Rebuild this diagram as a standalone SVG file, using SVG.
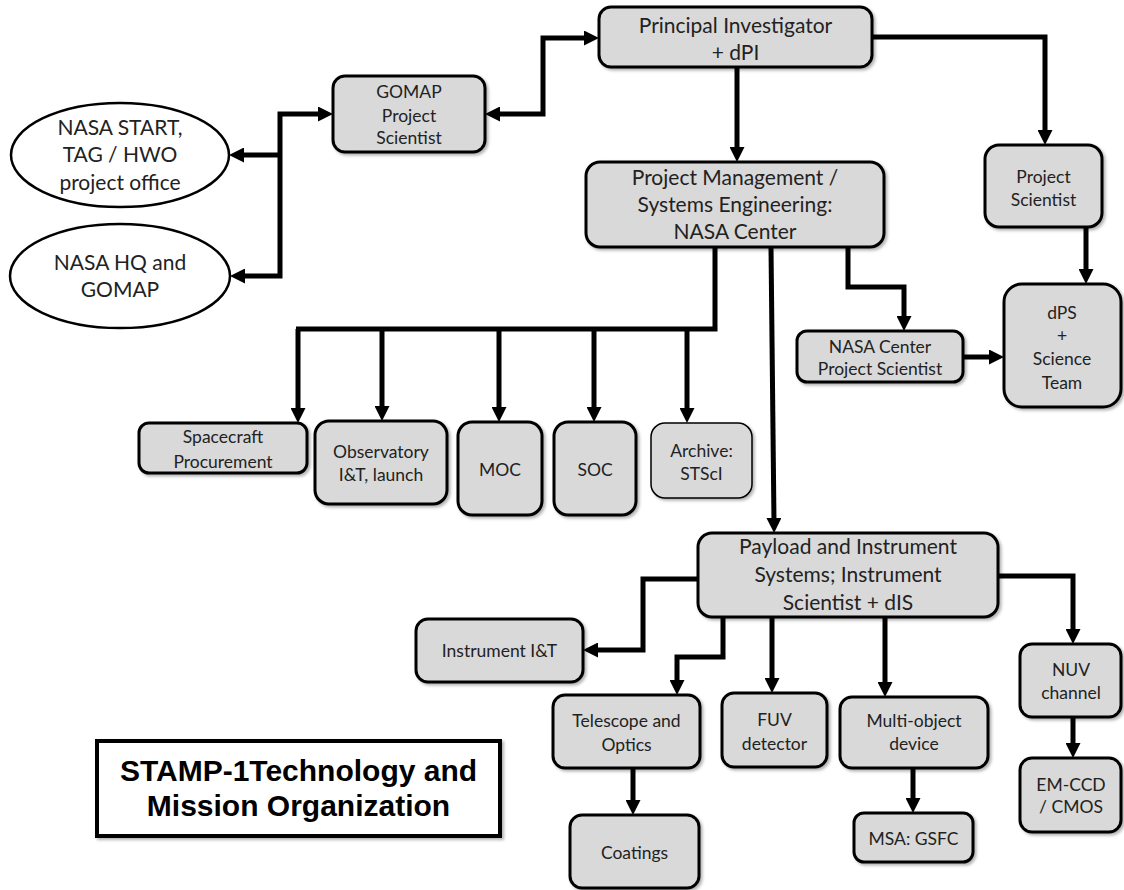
<svg xmlns="http://www.w3.org/2000/svg" width="1124" height="890" viewBox="0 0 1124 890">
<defs>
<marker id="ah" markerUnits="userSpaceOnUse" markerWidth="15" markerHeight="15" refX="5" refY="7.5" orient="auto-start-reverse">
<path d="M0,0 L15,7.5 L0,15 z" fill="#000"/>
</marker>
<filter id="sh" x="-10%" y="-10%" width="130%" height="130%">
<feDropShadow dx="2" dy="2" stdDeviation="1.5" flood-color="#000" flood-opacity="0.3"/>
</filter>
<style>
.box{fill:#d9d9d9;stroke:#000;stroke-width:3;filter:url(#sh)}
.thin{stroke-width:1.5}
.ell{fill:#fff;stroke:#000;stroke-width:2.5}
.t{font-family:Lato,"Open Sans",sans-serif;font-size:17.5px;fill:#222;text-anchor:middle}
.big{font-size:21px}
.title{font-family:"Liberation Sans",Arial,sans-serif;font-weight:bold;font-size:30px;fill:#000;text-anchor:middle}
.c{fill:none;stroke:#000;stroke-width:5;stroke-linejoin:miter}
.a{marker-end:url(#ah)}
.b{marker-start:url(#ah);marker-end:url(#ah)}
.s{marker-start:url(#ah)}
</style>
</defs>
<rect width="1124" height="890" fill="#fff"/>

<g id="connectors">
<path class="c b" d="M495,114 L543,114 L543,38 L589,38"/>
<path class="c s a" d="M323,114 L280,114 L280,276 L240,276"/>
<path class="c a" d="M280,155 L239,155"/>
<path class="c a" d="M737,67 L737,152"/>
<path class="c a" d="M872,37 L1045,37 L1045,135"/>
<path class="c a" d="M1086,227 L1086,274"/>
<path class="c a" d="M848,247 L848,287 L904,287 L904,321"/>
<path class="c a" d="M963,357 L994,357"/>
<path class="c" d="M715,247 L715,329 L296,329"/>
<path class="c a" d="M298,329 L298,413"/>
<path class="c a" d="M382,329 L382,411"/>
<path class="c a" d="M499,329 L499,412"/>
<path class="c a" d="M594,329 L594,412"/>
<path class="c a" d="M687,329 L687,413"/>
<path class="c a" d="M771,247 L774,523"/>
<path class="c a" d="M698,579 L643,579 L643,650 L593,650"/>
<path class="c a" d="M723,617 L723,657 L677,657 L677,685"/>
<path class="c a" d="M772,617 L772,683"/>
<path class="c a" d="M885,617 L885,687"/>
<path class="c a" d="M998,576 L1073,576 L1073,634"/>
<path class="c a" d="M633,768 L633,805"/>
<path class="c a" d="M913,768 L913,803"/>
<path class="c a" d="M1073,717 L1073,748"/>
</g>

<g id="pi">
<rect class="box" x="599" y="7" width="273" height="60" rx="12"/>
<text class="t big" x="735.5" y="33">Principal Investigator</text>
<text class="t big" x="735.5" y="60">+ dPI</text>
</g>

<g id="gomap">
<rect class="box" x="333" y="76" width="152" height="76" rx="12"/>
<text class="t" x="409" y="98">GOMAP</text>
<text class="t" x="409" y="122">Project</text>
<text class="t" x="409" y="144">Scientist</text>
</g>

<g id="nasa-start">
<ellipse class="ell" cx="120" cy="155" rx="109" ry="52"/>
<text class="t big" x="120" y="135">NASA START,</text>
<text class="t big" x="120" y="162">TAG / HWO</text>
<text class="t big" x="120" y="190">project office</text>
</g>

<g id="nasa-hq">
<ellipse class="ell" cx="120" cy="276" rx="110" ry="52"/>
<text class="t big" x="120" y="270">NASA HQ and</text>
<text class="t big" x="120" y="297">GOMAP</text>
</g>

<g id="pm">
<rect class="box" x="586" y="162" width="298" height="85" rx="14"/>
<text class="t big" x="735" y="185">Project Management /</text>
<text class="t big" x="735" y="212">Systems Engineering:</text>
<text class="t big" x="735" y="239">NASA Center</text>
</g>

<g id="ps">
<rect class="box" x="985" y="145" width="117" height="82" rx="14"/>
<text class="t" x="1043.5" y="183">Project</text>
<text class="t" x="1043.5" y="206">Scientist</text>
</g>

<g id="dps">
<rect class="box" x="1004" y="284" width="117" height="123" rx="18"/>
<text class="t" x="1062" y="319">dPS</text>
<text class="t" x="1062" y="342">+</text>
<text class="t" x="1062" y="365">Science</text>
<text class="t" x="1062" y="389">Team</text>
</g>

<g id="nasa-center-ps">
<rect class="box" x="797" y="331" width="166" height="51" rx="10"/>
<text class="t" x="880" y="353">NASA Center</text>
<text class="t" x="880" y="375">Project Scientist</text>
</g>

<g id="spacecraft">
<rect class="box" x="139" y="423" width="168" height="50" rx="10"/>
<text class="t" x="223" y="443">Spacecraft</text>
<text class="t" x="223" y="468">Procurement</text>
</g>

<g id="observatory">
<rect class="box" x="315" y="421" width="132" height="83" rx="14"/>
<text class="t" x="381" y="458">Observatory</text>
<text class="t" x="381" y="481">I&amp;T, launch</text>
</g>

<g id="moc">
<rect class="box" x="458" y="422" width="84" height="93" rx="14"/>
<text class="t" x="500" y="476">MOC</text>
</g>

<g id="soc">
<rect class="box" x="554" y="422" width="82" height="93" rx="14"/>
<text class="t" x="595" y="476">SOC</text>
</g>

<g id="archive">
<rect class="box thin" x="651" y="423" width="101" height="75" rx="14"/>
<text class="t" x="701.5" y="457">Archive:</text>
<text class="t" x="701.5" y="480">STScI</text>
</g>

<g id="payload">
<rect class="box" x="698" y="533" width="300" height="84" rx="14"/>
<text class="t big" x="848" y="554">Payload and Instrument</text>
<text class="t big" x="848" y="582">Systems; Instrument</text>
<text class="t big" x="848" y="610">Scientist + dIS</text>
</g>

<g id="instrument-it">
<rect class="box" x="416" y="619" width="167" height="63" rx="12"/>
<text class="t" x="499.5" y="657">Instrument I&amp;T</text>
</g>

<g id="telescope">
<rect class="box" x="553" y="695" width="147" height="73" rx="12"/>
<text class="t" x="626.5" y="727">Telescope and</text>
<text class="t" x="626.5" y="751">Optics</text>
</g>

<g id="fuv">
<rect class="box" x="722" y="693" width="105" height="74" rx="12"/>
<text class="t" x="774.5" y="726">FUV</text>
<text class="t" x="774.5" y="750">detector</text>
</g>

<g id="multi-object">
<rect class="box" x="840" y="697" width="148" height="71" rx="12"/>
<text class="t" x="914" y="727">Multi-object</text>
<text class="t" x="914" y="750">device</text>
</g>

<g id="nuv">
<rect class="box" x="1020" y="644" width="101" height="73" rx="12"/>
<text class="t" x="1071" y="676">NUV</text>
<text class="t" x="1071" y="699">channel</text>
</g>

<g id="coatings">
<rect class="box" x="570" y="815" width="129" height="73" rx="12"/>
<text class="t" x="634.5" y="859">Coatings</text>
</g>

<g id="msa">
<rect class="box" x="854" y="813" width="119" height="49" rx="10"/>
<text class="t" x="913.5" y="845">MSA: GSFC</text>
</g>

<g id="emccd">
<rect class="box" x="1020" y="758" width="101" height="74" rx="12"/>
<text class="t" x="1071" y="791">EM-CCD</text>
<text class="t" x="1071" y="813">/ CMOS</text>
</g>

<g id="title">
<rect x="97" y="741" width="403" height="95" fill="#fff" stroke="#000" stroke-width="4" filter="url(#sh)"/>
<text class="title" x="298.5" y="781">STAMP-1Technology and</text>
<text class="title" x="298.5" y="816">Mission Organization</text>
</g>
</svg>
